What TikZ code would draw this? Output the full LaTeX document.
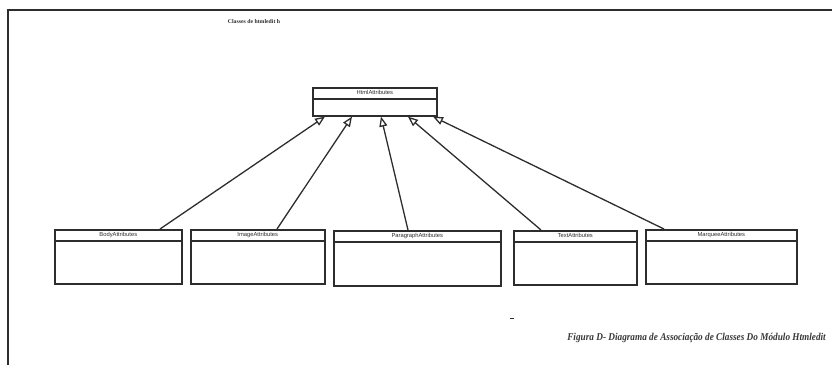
\documentclass[tikz,border=0pt]{standalone}
\usepackage{fontspec}
\setmainfont{Liberation Serif}
\newfontfamily\classfont{Liberation Sans}
\usetikzlibrary{arrows.meta,calc}
\definecolor{ink}{RGB}{45,45,45}
\definecolor{captionink}{RGB}{55,55,55}
\tikzset{
  classbox/.style={draw=ink, line width=1.6pt, fill=white, inner sep=0pt, anchor=north west},
  classname/.style={font=\classfont\fontsize{5.8}{6}\selectfont, text=ink, inner sep=0pt, anchor=center},
  headsep/.style={draw=ink, line width=2pt},
  gen/.style={draw=ink, line width=1.3pt, -{Triangle[open, length=10pt, width=8pt, line width=1.3pt]}},
  frame/.style={draw=ink, line width=1.8pt}
}
% class symbol: name, x, y (top left), width, height, label
\newcommand\umlclass[6]{%
  \node[classbox, minimum width=#4pt, minimum height=#5pt] (#1) at (#2,#3) {};
  \node[classname] (#1-name) at ([yshift=-5.5pt]#1.north) {#6};
  \draw[headsep] ([yshift=-11.5pt]#1.north west) -- ([yshift=-11.5pt]#1.north east);
}
\begin{document}
\begin{tikzpicture}[x=1pt, y=-1pt]
  \useasboundingbox (0,0) rectangle (832,365);
  % page frame
  \coordinate (frame-tl) at (8,10);
  \coordinate (frame-tr) at (832,10);
  \coordinate (frame-bl) at (8,365);
  \draw[frame] (frame-bl) -- (frame-tl) -- (frame-tr);
  \node[font=\bfseries\fontsize{5.8}{6}\selectfont, text=ink, inner sep=0pt] (title) at (254,22) {Classes de htmledit h};

  % classes
  \umlclass{html}{312}{87}{124}{28}{HtmlAttributes}
  \umlclass{body}{54}{229}{127}{54}{BodyAttributes}
  \umlclass{image}{190}{229}{134}{54}{ImageAttributes}
  \umlclass{para}{333}{230}{167}{55}{ParagraphAttributes}
  \umlclass{text}{513}{230}{123}{54}{TextAttributes}
  \umlclass{marquee}{645}{229}{151}{54}{MarqueeAttributes}

  % generalisations
  \draw[gen] ([xshift=106pt]body.north west) -- ([xshift=13pt]html.south west);
  \draw[gen] ([xshift=87pt]image.north west) -- ([xshift=40pt]html.south west);
  \draw[gen] ([xshift=75pt]para.north west) -- ([xshift=69pt]html.south west);
  \draw[gen] ([xshift=28pt]text.north west) -- ([xshift=96pt]html.south west);
  \draw[gen] ([xshift=19pt]marquee.north west) -- ([xshift=121pt]html.south west);

  % caption
  \coordinate (dash-a) at (510,318);
  \coordinate (dash-b) at (514,318);
  \draw[ink, line width=1pt] (dash-a) -- (dash-b);
  \node[anchor=east, inner sep=0pt, text=captionink, font=\bfseries\itshape\fontsize{10.5}{12}\selectfont] (caption) at (826,338)
    {\scalebox{0.88}[1]{Figura D- Diagrama de Associação de Classes Do Módulo Htmledit}};
\end{tikzpicture}
\end{document}
